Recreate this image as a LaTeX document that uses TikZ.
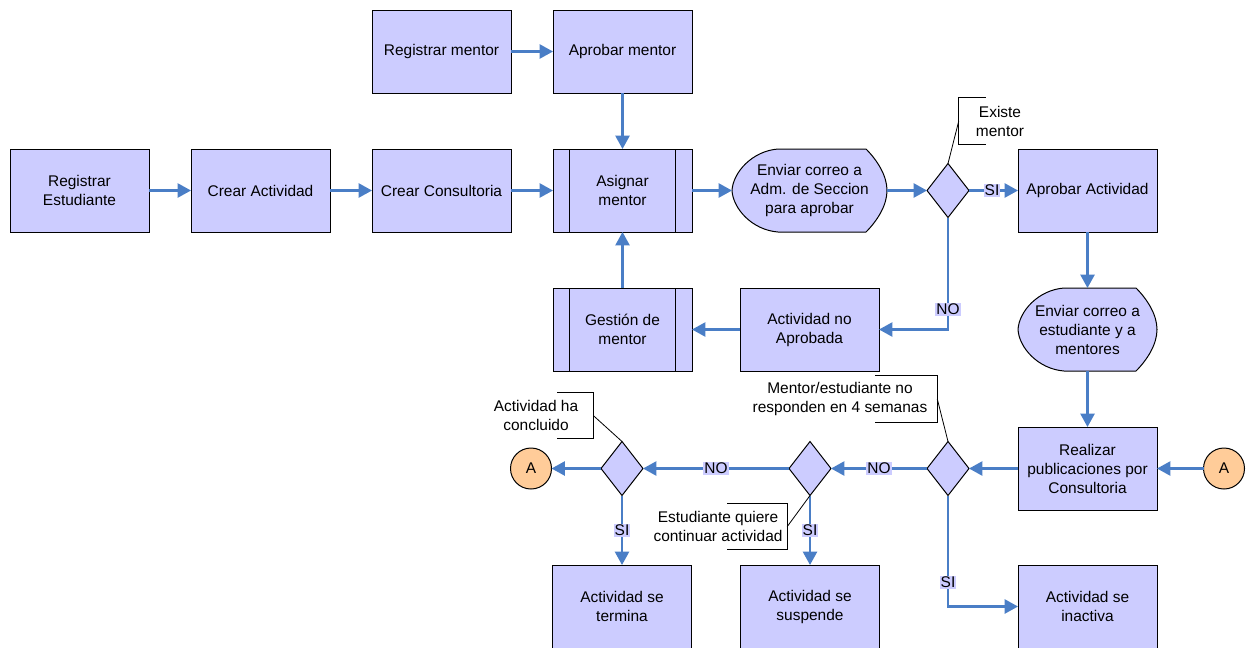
\documentclass[tikz,border=0pt]{standalone}
\usepackage{fontspec}
\setmainfont{Liberation Sans}
\usepackage{tikz}
\usetikzlibrary{shapes,arrows.meta,calc,positioning,backgrounds}
\definecolor{boxfill}{HTML}{CCCCFF}
\definecolor{flowblue}{HTML}{4A7EC6}
\definecolor{connfill}{HTML}{FFCC99}
\newcommand{\flowfont}{\fontsize{11.6}{14.25}\selectfont}
\tikzstyle{line} = [draw=flowblue, line width=1.75pt, -{Triangle[length=10pt,width=10.5pt]}]
\tikzstyle{block} = [draw, rectangle, fill=boxfill, align=center, minimum width=104.25pt, minimum height=62.25pt, outer sep=0pt, line width=0.75pt, font=\flowfont]
\tikzstyle{subproc} = [block, path picture={\draw[line width=0.75pt] ([xshift=12.4pt]path picture bounding box.north west) -- ([xshift=12.4pt]path picture bounding box.south west) ([xshift=-12.4pt]path picture bounding box.north east) -- ([xshift=-12.4pt]path picture bounding box.south east);}]
\tikzstyle{display} = [rectangle, align=center, minimum width=104.25pt, minimum height=62.25pt, inner sep=0pt, outer sep=0pt, font=\flowfont]
\tikzstyle{decision} = [draw, diamond, fill=boxfill, minimum width=31.5pt, minimum height=40.5pt, inner sep=0pt, outer sep=0pt, line width=0.75pt]
\tikzstyle{connector} = [draw, circle, fill=connfill, minimum size=30.75pt, inner sep=0pt, outer sep=0pt, line width=0.75pt, font=\flowfont]
\tikzstyle{answer} = [fill=boxfill, inner sep=0.8pt, font=\flowfont]
\tikzstyle{note} = [align=center, inner sep=0pt, minimum height=34.5pt, font=\flowfont]
\tikzstyle{notebar} = [draw, line width=0.6pt]
\newcommand{\dispoutline}[1]{%
  \begin{scope}[on background layer]
    \draw[fill=boxfill, line width=0.75pt] ($(#1.north west)+(46,0)$) -- ($(#1.north east)+(-21,0)$)
      .. controls ($(#1.north east)+(-10,11)$) and ($(#1.east)+(0,-15)$) .. (#1.east)
      .. controls ($(#1.east)+(0,15)$) and ($(#1.south east)+(-10,-11)$) .. ($(#1.south east)+(-21,0)$)
      -- ($(#1.south west)+(46,0)$)
      .. controls ($(#1.south west)+(20,-2)$) and ($(#1.west)+(1,18)$) .. (#1.west)
      .. controls ($(#1.west)+(1,-18)$) and ($(#1.north west)+(20,2)$) .. cycle;
  \end{scope}}
\newcommand{\noteopen}[2]{\draw[notebar] ([xshift=#2]#1.north west) -- (#1.north west) -- (#1.south west) -- ([xshift=#2]#1.south west);}
\newcommand{\noteclose}[2]{\draw[notebar] ([xshift=-#2]#1.north east) -- (#1.north east) -- (#1.south east) -- ([xshift=-#2]#1.south east);}

\begin{document}
\begin{tikzpicture}[x=0.75pt, y=-0.75pt, node distance=135.75pt]
    \useasboundingbox (0,0) rectangle (1251,647);
    \node[block] (regest) at (79.5,190.5) {Registrar\\Estudiante};
    \node[block, right of=regest] (crearact) {Crear Actividad};
    \node[block, right of=crearact] (crearcons) {Crear Consultoria};
    \node[subproc, right of=crearcons] (asignar) {Asignar\\mentor};
    \node[block, above of=crearcons, node distance=104.25pt] (regmentor) {Registrar mentor};
    \node[block, above of=asignar, node distance=104.25pt] (apromentor) {Aprobar mentor};
    \node[subproc, below of=asignar, node distance=104.25pt] (gestion) {Gestión de\\mentor};
    \node[block, right of=gestion, node distance=140.25pt] (noapro) {Actividad no\\Aprobada};
    \node[display, minimum width=116.25pt, above of=noapro, node distance=104.25pt] (correoadm) {Enviar correo a\\Adm. de Seccion\\para aprobar};
    \node[decision, right of=correoadm, node distance=103.875pt] (existe) {};
    \node[block, right of=existe, node distance=104.625pt] (aproact) {Aprobar Actividad};
    \node[display, below of=aproact, node distance=104.25pt] (correoest) {Enviar correo a\\estudiante y a\\mentores};
    \node[block, below of=correoest, node distance=104.25pt] (realizar) {Realizar\\publicaciones por\\Consultoria};
    \node[connector, right of=realizar, node distance=102.375pt] (aright) {A};
    \node[decision, left of=realizar, node distance=104.625pt] (nores) {};
    \node[decision, left of=nores, node distance=103.5pt] (continuar) {};
    \node[decision, left of=continuar, node distance=141pt] (concluido) {};
    \node[connector, left of=concluido, node distance=68.25pt] (aleft) {A};
    \node[block, below of=concluido, node distance=103.5pt] (termina) {Actividad se\\termina};
    \node[block, below of=continuar, node distance=103.5pt] (suspende) {Actividad se\\suspende};
    \node[block, below of=realizar, node distance=103.5pt] (inactiva) {Actividad se\\inactiva};
    \node[note, minimum width=61.5pt] (existenote) at ($(existe)+(52,-69.5)$) {Existe\\mentor};
    \node[note, minimum width=145.5pt] (noresnote) at ($(nores)+(-108,-69.5)$) {Mentor/estudiante no\\responden en 4 semanas};
    \node[note, minimum width=85.5pt] (concluidonote) at ($(concluido)+(-86,-53)$) {Actividad ha\\concluido};
    \node[note, minimum width=103.5pt] (continuarnote) at ($(continuar)+(-92,58)$) {Estudiante quiere\\continuar actividad};
    \dispoutline{correoadm}
    \dispoutline{correoest}
    \path[line] (regest) -- (crearact);
    \path[line] (crearact) -- (crearcons);
    \path[line] (crearcons) -- (asignar);
    \path[line] (regmentor) -- (apromentor);
    \path[line] (apromentor) -- (asignar);
    \path[line] (asignar) -- (correoadm);
    \path[line] (correoadm) -- (existe);
    \path[line] (existe) -- node[answer, pos=0.47] {SI} (aproact);
    \path[line] (existe) |- node[answer, pos=0.41] {NO} (noapro);
    \path[line] (noapro) -- (gestion);
    \path[line] (gestion) -- (asignar);
    \path[line] (aproact) -- (correoest);
    \path[line] (correoest) -- (realizar);
    \path[line] (aright) -- (realizar);
    \path[line] (realizar) -- (nores);
    \path[line] (nores) -- node[answer] {NO} (continuar);
    \path[line] (continuar) -- node[answer] {NO} (concluido);
    \path[line] (concluido) -- (aleft);
    \path[line] (concluido) -- node[answer] {SI} (termina);
    \path[line] (continuar) -- node[answer] {SI} (suspende);
    \path[line] (nores) |- node[answer, pos=0.39] {SI} (inactiva);
    \noteopen{existenote}{20.25pt}
    \draw[notebar] (existenote.west) -- (existe.north);
    \noteclose{noresnote}{46.5pt}
    \draw[notebar] (noresnote.east) -- (nores.north);
    \noteclose{concluidonote}{27pt}
    \draw[notebar] (concluidonote.east) -- (concluido.north);
    \noteclose{continuarnote}{45pt}
    \draw[notebar] (continuarnote.east) -- (continuar.south);
\end{tikzpicture}
\end{document}
